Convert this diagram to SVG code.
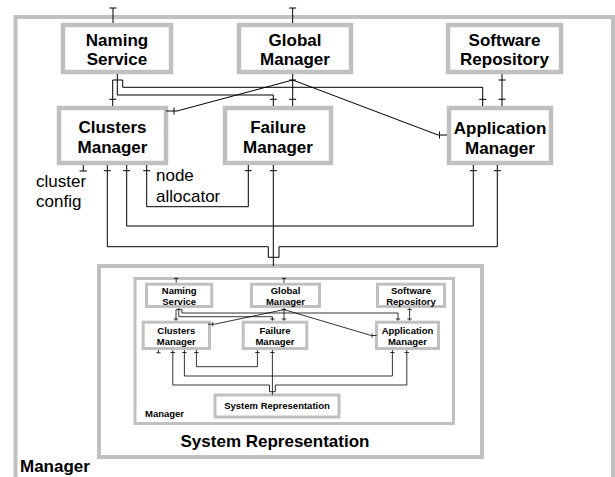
<svg xmlns="http://www.w3.org/2000/svg" width="615" height="477" viewBox="0 0 615 477">
<style>
.frame{fill:#ffffff;stroke:#c0c0c0;stroke-width:4}
.box{fill:#ffffff;stroke:#c0c0c0;stroke-width:4.5}
.sbox{fill:#ffffff;stroke:#c0c0c0;stroke-width:3}
.ln{fill:none;stroke:#000;stroke-width:1}
.sln{fill:none;stroke:#000;stroke-width:0.8}
.t{font-family:"Liberation Sans",Arial,sans-serif;font-weight:bold;font-size:17px;text-anchor:middle;fill:#000}
.tl{font-family:"Liberation Sans",Arial,sans-serif;font-size:17px;fill:#000}
.tb{font-family:"Liberation Sans",Arial,sans-serif;font-weight:bold;font-size:17px;fill:#000}
.st{font-family:"Liberation Sans",Arial,sans-serif;font-weight:bold;font-size:9.5px;text-anchor:middle;fill:#000}
.stl{font-family:"Liberation Sans",Arial,sans-serif;font-weight:bold;font-size:9.5px;fill:#000}
</style>
<rect id="outer-frame" class="frame" x="15.5" y="17" width="597.5" height="480"/>
<text class="tb" x="20" y="472">Manager</text>

<g id="sysrep">
<rect class="frame" x="99" y="266" width="383" height="191"/>
<text class="t" x="275" y="447">System Representation</text>
</g>

<g id="naming-service"><rect class="box" x="63" y="25" width="108" height="47"/><text class="t" x="117" y="46">Naming</text><text class="t" x="117" y="65">Service</text></g>
<g id="global-manager"><rect class="box" x="239" y="25" width="112" height="47"/><text class="t" x="295" y="46">Global</text><text class="t" x="295" y="65">Manager</text></g>
<g id="software-repository"><rect class="box" x="448" y="25" width="113" height="47"/><text class="t" x="504.5" y="46">Software</text><text class="t" x="504.5" y="65">Repository</text></g>
<g id="clusters-manager"><rect class="box" x="59" y="108" width="107" height="55"/><text class="t" x="112.5" y="133">Clusters</text><text class="t" x="112.5" y="153">Manager</text></g>
<g id="failure-manager"><rect class="box" x="225" y="108" width="106" height="55"/><text class="t" x="278" y="133">Failure</text><text class="t" x="278" y="153">Manager</text></g>
<g id="application-manager"><rect class="box" x="449" y="108" width="102" height="55"/><text class="t" x="500" y="134">Application</text><text class="t" x="500" y="154">Manager</text></g>

<g id="connectors">
<path class="ln" d="M113 8V23M109.5 8H116.5"/>
<path class="ln" d="M292.7 8V23M289.2 8H296.2"/>
<path class="ln" d="M117.3 74V95H273.3V106M269.8 99.3H276.8"/>
<path class="ln" d="M112.7 80H122.7M112.7 80V106M109.2 99.3H116.2M122.7 80V87.3H482.7V106M479.2 99.3H486.2"/>
<path class="ln" d="M292.7 74V106M289.2 80H296.2M289.2 99.3H296.2"/>
<path class="ln" d="M292.7 80L177 111H166M174 107.5V114.5"/>
<path class="ln" d="M292.7 80L438 135H447M439.5 131.5V138.5"/>
<path class="ln" d="M502 74V106M498.5 80H505.5M498.5 99.3H505.5"/>
<path class="ln" d="M83.3 165V171M79.5 171H87"/>
<path class="ln" d="M107.3 165V246.7H268.3V257.3H279V246.7H497.3V165M103.8 170.7H110.8M493.8 170.7H500.8"/>
<path class="ln" d="M126.7 165V226H473.3V165M123.2 170.7H130.2M469.8 170.7H476.8"/>
<path class="ln" d="M146.7 165V206.7H248.3V165M143.2 170.7H150.2M244.8 170.7H251.8"/>
<path class="ln" d="M273.3 165V266M269.8 170.7H276.8"/>
</g>
<g id="labels">
<text class="tl" x="36" y="187">cluster</text>
<text class="tl" x="36" y="207">config</text>
<text class="tl" x="156" y="181">node</text>
<text class="tl" x="156" y="202">allocator</text>
</g>

<g id="inner-manager">
<rect class="sbox" x="135" y="278.5" width="318.5" height="145"/>
<text class="stl" x="145" y="416.5">Manager</text>
</g>
<g id="inner-sysrep"><rect class="sbox" x="215" y="395" width="124" height="22"/><text class="st" x="277" y="408.5">System Representation</text></g>
<g id="inner-naming"><rect class="sbox" x="146.5" y="284.2" width="65.3" height="22.3"/><text class="st" x="179.2" y="294.3">Naming</text><text class="st" x="179.2" y="305.3">Service</text></g>
<g id="inner-global"><rect class="sbox" x="251.5" y="284.2" width="68" height="22.3"/><text class="st" x="285.5" y="294.3">Global</text><text class="st" x="285.5" y="305.3">Manager</text></g>
<g id="inner-software"><rect class="sbox" x="377.5" y="284.2" width="67" height="22.3"/><text class="st" x="411" y="294.3">Software</text><text class="st" x="411" y="305.3">Repository</text></g>
<g id="inner-clusters"><rect class="sbox" x="143.2" y="322.2" width="66.3" height="26.3"/><text class="st" x="176.3" y="333.5">Clusters</text><text class="st" x="176.3" y="344.5">Manager</text></g>
<g id="inner-failure"><rect class="sbox" x="243.2" y="322.2" width="63.6" height="26.3"/><text class="st" x="275" y="333.5">Failure</text><text class="st" x="275" y="344.5">Manager</text></g>
<g id="inner-application"><rect class="sbox" x="376.5" y="322.2" width="62" height="26.3"/><text class="st" x="407.5" y="333.5">Application</text><text class="st" x="407.5" y="344.5">Manager</text></g>

<g id="inner-connectors">
<path class="sln" d="M176.2 278.3V282.7M174 278.3H178.4"/>
<path class="sln" d="M284 278.3V282.7M281.8 278.3H286.2"/>
<path class="sln" d="M178.8 308V316.7H272.4V320.7M270.2 319H274.6"/>
<path class="sln" d="M176 309.6H182M176 309.6V320.7M173.8 319H178.2M182 309.6V313H398V320.7M395.8 319H400.2"/>
<path class="sln" d="M284 308V320.7M281.8 309.6H286.2M281.8 319H286.2"/>
<path class="sln" d="M284 309.6L214.6 324.2H208M212.8 322V326.4"/>
<path class="sln" d="M284 309.6L371.2 335.5H376.6M372.1 333.3V337.7"/>
<path class="sln" d="M409.6 308V320.7M407.4 309.6H411.8M407.4 319H411.8"/>
<path class="sln" d="M158.4 350V352.8M156.2 352.8H160.6"/>
<path class="sln" d="M172.8 350V385H269.5V391.7H275.3V385H406.8V350M170.6 352.5H175M404.6 352.5H409"/>
<path class="sln" d="M184.4 350V376H392.4V350M182.2 352.5H186.6M390.2 352.5H394.6"/>
<path class="sln" d="M196.4 350V366.7H257.4V350M194.2 352.5H198.6M255.2 352.5H259.6"/>
<path class="sln" d="M272.4 350V395M270.2 352.5H274.6"/>
</g>
</svg>
